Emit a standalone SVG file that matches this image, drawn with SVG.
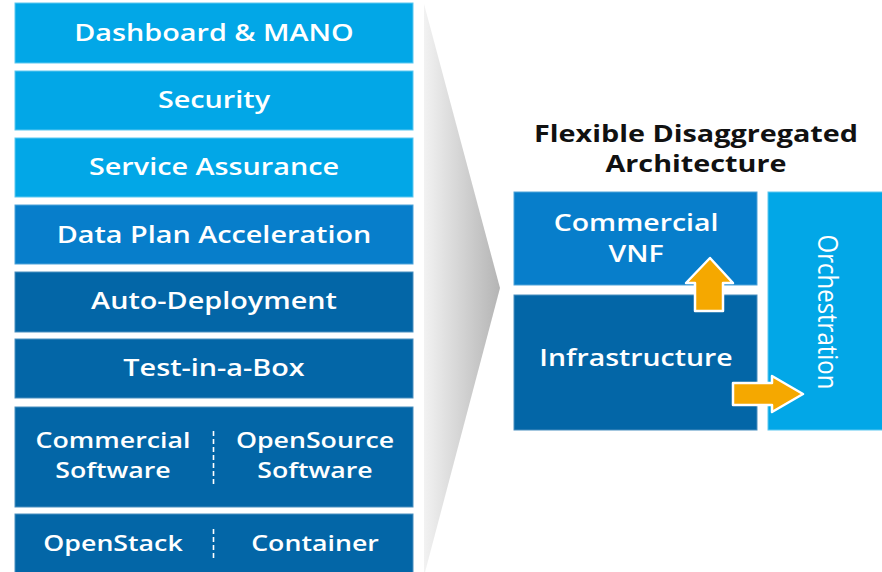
<svg xmlns="http://www.w3.org/2000/svg" width="882" height="572" viewBox="0 0 882 572">
  <defs>
    <linearGradient id="chevronFill" x1="0" y1="0" x2="1" y2="0">
      <stop offset="0" stop-color="#f2f2f2"/>
      <stop offset="1" stop-color="#b4b4b4"/>
    </linearGradient>
    <style>
      .sky { fill: #02a7e7; stroke: #5cc8f0; stroke-width: 1; }
      .mid { fill: #077ecb; stroke: #4fa3d9; stroke-width: 1; }
      .deep { fill: #0366a7; stroke: #4b8fbf; stroke-width: 1; }
      .lbl { font-family: "Open Sans", "Noto Sans", "Liberation Sans", sans-serif; font-weight: 600; font-size: 23.5px; fill: #ffffff; text-anchor: middle; }
      .lbl-sm { font-size: 22px; }
      .lbl-reg { font-weight: 400; font-size: 24px; }
      .title { font-family: "Open Sans", "Noto Sans", "Liberation Sans", sans-serif; font-weight: 700; font-size: 23.5px; fill: #111111; text-anchor: middle; }
      .divider { stroke: #ffffff; stroke-width: 1.6; stroke-dasharray: 5 3; fill: none; }
      .flow { fill: #f5a800; stroke: #ffffff; stroke-width: 2.5; stroke-linejoin: round; }
    </style>
  </defs>

  <rect width="882" height="572" fill="#ffffff"/>

  <!-- grey chevron pointing from the stack to the architecture view -->
  <polygon points="424,4 500,288 424,576" fill="url(#chevronFill)"/>

  <!-- layered stack -->
  <g id="layer-dashboard">
    <rect class="sky" x="15" y="3" width="398" height="60"/>
    <text class="lbl" transform="translate(214,41) scale(1.225,1)">Dashboard &amp; MANO</text>
  </g>
  <g id="layer-security">
    <rect class="sky" x="15" y="71" width="398" height="59"/>
    <text class="lbl" transform="translate(214,108) scale(1.225,1)">Security</text>
  </g>
  <g id="layer-assurance">
    <rect class="sky" x="15" y="138" width="398" height="59"/>
    <text class="lbl" transform="translate(214,175) scale(1.225,1)">Service Assurance</text>
  </g>
  <g id="layer-acceleration">
    <rect class="mid" x="15" y="205" width="398" height="59"/>
    <text class="lbl" transform="translate(214,243) scale(1.225,1)">Data Plan Acceleration</text>
  </g>
  <g id="layer-deployment">
    <rect class="deep" x="15" y="272" width="398" height="60"/>
    <text class="lbl" transform="translate(214,309) scale(1.225,1)">Auto-Deployment</text>
  </g>
  <g id="layer-test">
    <rect class="deep" x="15" y="339" width="398" height="59"/>
    <text class="lbl" transform="translate(214,376) scale(1.225,1)">Test-in-a-Box</text>
  </g>
  <g id="layer-software">
    <rect class="deep" x="15" y="407" width="398" height="100"/>
    <text class="lbl lbl-sm" transform="translate(113,448) scale(1.215,1)">Commercial</text>
    <text class="lbl lbl-sm" transform="translate(113,478) scale(1.215,1)">Software</text>
    <line class="divider" x1="213.5" y1="431" x2="213.5" y2="484"/>
    <text class="lbl lbl-sm" transform="translate(315,448) scale(1.215,1)">OpenSource</text>
    <text class="lbl lbl-sm" transform="translate(315,478) scale(1.215,1)">Software</text>
  </g>
  <g id="layer-platform">
    <rect class="deep" x="15" y="514" width="398" height="62"/>
    <text class="lbl lbl-sm" transform="translate(113,551) scale(1.215,1)">OpenStack</text>
    <line class="divider" x1="213.5" y1="529" x2="213.5" y2="559"/>
    <text class="lbl lbl-sm" transform="translate(315,551) scale(1.215,1)">Container</text>
  </g>

  <!-- architecture view -->
  <g id="arch-title">
    <text class="title" transform="translate(696,142) scale(1.225,1)">Flexible Disaggregated</text>
    <text class="title" transform="translate(696,172) scale(1.225,1)">Architecture</text>
  </g>
  <g id="arch-vnf">
    <rect class="mid" x="514" y="192" width="243" height="93"/>
    <text class="lbl" transform="translate(636,231) scale(1.21,1)">Commercial</text>
    <text class="lbl" transform="translate(636,262) scale(1.21,1)">VNF</text>
  </g>
  <g id="arch-infrastructure">
    <rect class="deep" x="514" y="295" width="243" height="135"/>
    <text class="lbl" transform="translate(636,366) scale(1.21,1)">Infrastructure</text>
  </g>
  <g id="arch-orchestration">
    <rect class="sky" x="768" y="192" width="116" height="238"/>
    <text class="lbl lbl-reg" transform="translate(818,312) scale(1.17,1) rotate(90)">Orchestration</text>
  </g>

  <!-- connectors -->
  <g id="connectors">
    <path class="flow" d="M695,311 L695,283 L686,283 L710,258 L733,283 L723,283 L723,311 Z"/>
    <path class="flow" d="M733,383 L772,383 L772,376 L803,394 L772,412 L772,405 L733,405 Z"/>
  </g>
</svg>
